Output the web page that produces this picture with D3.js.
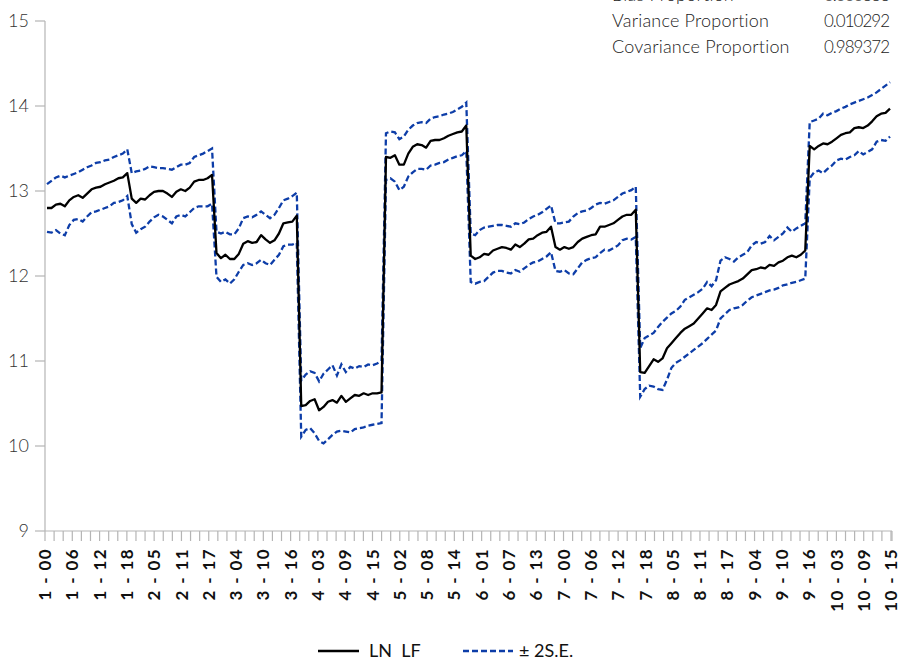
<!DOCTYPE html>
<html>
<head>
<meta charset="utf-8">
<script src="https://cdn.jsdelivr.net/npm/d3@7"></script>
<style>
  html, body { margin: 0; padding: 0; background: #fff; }
  svg { display: block; }
</style>
</head>
<body>
<svg id="chart" width="900" height="663"></svg>
<script>
// ---------- DATA ----------
const units = [1, 2, 3, 4, 5, 6, 7, 8, 9, 10];
const years = ["00","01","02","03","04","05","06","07","08","09","10","11","12","13","14","15","16","17","18"];

const tickLabels = ["1 - 00","1 - 06","1 - 12","1 - 18","2 - 05","2 - 11","2 - 17","3 - 04","3 - 10","3 - 16",
  "4 - 03","4 - 09","4 - 15","5 - 02","5 - 08","5 - 14","6 - 01","6 - 07","6 - 13","7 - 00","7 - 06",
  "7 - 12","7 - 18","8 - 05","8 - 11","8 - 17","9 - 04","9 - 10","9 - 16","10 - 03","10 - 09","10 - 15"];

const yTicks = [9, 10, 11, 12, 13, 14, 15];

const lnlf = [
  12.80,12.80,12.84,12.85,12.82,12.89,12.93,12.95,12.92,12.97,13.02,13.04,13.05,13.08,13.10,13.12,13.15,13.16,13.21,
  12.91,12.86,12.91,12.90,12.95,12.99,13.00,13.00,12.97,12.93,12.99,13.02,13.00,13.04,13.11,13.13,13.13,13.15,13.19,
  12.27,12.21,12.25,12.20,12.20,12.26,12.38,12.41,12.39,12.40,12.48,12.43,12.39,12.42,12.50,12.62,12.63,12.64,12.71,
  10.47,10.48,10.53,10.55,10.42,10.46,10.52,10.54,10.51,10.59,10.52,10.56,10.60,10.59,10.62,10.60,10.62,10.62,10.63,
  13.40,13.39,13.42,13.31,13.31,13.44,13.52,13.55,13.54,13.51,13.59,13.60,13.60,13.62,13.65,13.67,13.69,13.70,13.77,
  12.24,12.20,12.22,12.26,12.25,12.30,12.32,12.34,12.33,12.31,12.37,12.34,12.38,12.43,12.44,12.48,12.51,12.52,12.58,
  12.34,12.31,12.34,12.32,12.34,12.40,12.44,12.46,12.48,12.49,12.58,12.58,12.60,12.62,12.66,12.70,12.72,12.72,12.78,
  10.87,10.86,10.94,11.02,10.99,11.03,11.15,11.21,11.27,11.33,11.38,11.41,11.44,11.50,11.56,11.62,11.60,11.66,11.82,
  11.86,11.90,11.92,11.94,11.97,12.02,12.07,12.08,12.10,12.09,12.13,12.12,12.16,12.18,12.22,12.24,12.22,12.25,12.30,
  13.53,13.49,13.53,13.56,13.55,13.58,13.62,13.66,13.68,13.69,13.74,13.75,13.74,13.77,13.82,13.88,13.91,13.92,13.97
];

const upper = [
  13.08,13.12,13.16,13.18,13.16,13.18,13.20,13.22,13.25,13.28,13.30,13.33,13.34,13.36,13.37,13.40,13.42,13.44,13.49,
  13.21,13.23,13.24,13.26,13.29,13.28,13.27,13.27,13.26,13.25,13.28,13.31,13.31,13.33,13.40,13.42,13.44,13.47,13.50,
  12.52,12.50,12.52,12.49,12.49,12.56,12.68,12.70,12.69,12.72,12.76,12.72,12.68,12.72,12.80,12.89,12.91,12.94,12.98,
  10.77,10.84,10.88,10.86,10.76,10.85,10.90,10.95,10.83,10.96,10.87,10.93,10.91,10.94,10.93,10.96,10.95,10.97,11.00,
  13.68,13.70,13.69,13.61,13.64,13.72,13.77,13.80,13.81,13.80,13.85,13.87,13.88,13.90,13.91,13.93,13.96,13.99,14.04,
  12.50,12.48,12.54,12.57,12.58,12.59,12.60,12.60,12.59,12.58,12.62,12.61,12.63,12.67,12.70,12.72,12.75,12.79,12.83,
  12.62,12.62,12.63,12.64,12.70,12.74,12.76,12.77,12.80,12.84,12.86,12.85,12.87,12.89,12.93,12.97,12.99,13.01,13.05,
  11.15,11.27,11.30,11.33,11.40,11.46,11.51,11.56,11.59,11.64,11.72,11.75,11.78,11.81,11.85,11.93,11.88,11.95,12.18,
  12.22,12.20,12.17,12.22,12.25,12.28,12.36,12.40,12.38,12.40,12.47,12.42,12.46,12.50,12.57,12.52,12.56,12.59,12.62,
  13.81,13.83,13.85,13.91,13.89,13.92,13.94,13.97,13.99,14.02,14.04,14.06,14.08,14.10,14.13,14.16,14.20,14.24,14.28
];

const lower = [
  12.52,12.51,12.54,12.50,12.48,12.60,12.66,12.67,12.64,12.70,12.75,12.76,12.78,12.80,12.82,12.86,12.87,12.89,12.94,
  12.61,12.51,12.55,12.58,12.64,12.69,12.72,12.70,12.66,12.62,12.70,12.72,12.70,12.75,12.80,12.82,12.82,12.82,12.85,
  11.99,11.93,11.96,11.91,11.96,12.05,12.13,12.15,12.13,12.15,12.19,12.15,12.13,12.19,12.25,12.35,12.37,12.37,12.39,
  10.11,10.19,10.21,10.15,10.06,10.03,10.08,10.13,10.17,10.18,10.17,10.16,10.20,10.21,10.22,10.24,10.25,10.26,10.27,
  13.13,13.15,13.11,13.01,13.05,13.17,13.22,13.26,13.26,13.25,13.30,13.31,13.33,13.34,13.37,13.39,13.41,13.42,13.47,
  11.93,11.91,11.93,11.94,11.99,12.04,12.06,12.06,12.04,12.03,12.07,12.05,12.09,12.13,12.16,12.17,12.20,12.23,12.28,
  12.06,12.05,12.07,12.03,12.02,12.09,12.16,12.19,12.21,12.22,12.27,12.31,12.30,12.33,12.36,12.42,12.44,12.43,12.46,
  10.58,10.67,10.71,10.70,10.67,10.66,10.78,10.92,10.98,11.01,11.05,11.09,11.13,11.17,11.21,11.26,11.31,11.36,11.50,
  11.55,11.60,11.62,11.63,11.66,11.71,11.75,11.77,11.79,11.81,11.83,11.84,11.86,11.89,11.90,11.92,11.93,11.95,11.97,
  13.15,13.22,13.24,13.21,13.26,13.30,13.36,13.38,13.37,13.40,13.42,13.47,13.43,13.46,13.49,13.58,13.60,13.59,13.64
];

const statNames = ["Bias Proportion", "Variance Proportion", "Covariance Proportion"];
const statValues = ["0.000336", "0.010292", "0.989372"];

const legendNames = ["LN  LF", "\u00B1 2S.E."];

// ---------- BUILD ----------
const obsLabels = [];
units.forEach(u => years.forEach(y => obsLabels.push(u + " - " + y)));

const FONT = "Lato, 'Open Sans', sans-serif";
const svg = d3.select("#chart");

const axisLeft = 45, axisRight = 892, axisBottom = 531;
const x = d3.scalePoint().domain(obsLabels).range([47, 890]);
const xLab = d3.scalePoint().domain(tickLabels).range([45, 891]);
const y = d3.scaleLinear().domain([9, 15]).range([531, 21]);

const axisColor = "#b5b5b5";

// x axis
const gx = svg.append("g");
gx.append("line").attr("x1", axisLeft).attr("x2", axisRight)
  .attr("y1", axisBottom).attr("y2", axisBottom)
  .attr("stroke", axisColor).attr("stroke-width", 1.2);
const step3 = xLab.step() / 3;
const minorTicks = d3.range(0, (tickLabels.length - 1) * 3 + 1).map(k => xLab(tickLabels[0]) + k * step3);
gx.selectAll("line.tk").data(minorTicks).join("line").attr("class", "tk")
  .attr("x1", d => d).attr("x2", d => d)
  .attr("y1", axisBottom).attr("y2", axisBottom + 10)
  .attr("stroke", axisColor).attr("stroke-width", 1.2);
gx.append("line").attr("x1", axisRight).attr("x2", axisRight)
  .attr("y1", axisBottom).attr("y2", axisBottom + 10)
  .attr("stroke", axisColor).attr("stroke-width", 1.2);
gx.selectAll("text").data(tickLabels).join("text")
  .attr("transform", d => `translate(${xLab(d)},548) rotate(-90)`)
  .attr("text-anchor", "end").attr("dy", "0.36em")
  .attr("font-family", FONT).attr("font-size", 17).attr("font-weight", 700)
  .attr("letter-spacing", 1.4)
  .attr("fill", "#111").style("white-space", "pre")
  .text(d => d);

// y axis
const gy = svg.append("g");
gy.append("line").attr("x1", axisLeft).attr("x2", axisLeft)
  .attr("y1", y(15)).attr("y2", axisBottom)
  .attr("stroke", axisColor).attr("stroke-width", 1.2);
gy.selectAll("line.tk").data(yTicks).join("line").attr("class", "tk")
  .attr("x1", 35).attr("x2", axisLeft)
  .attr("y1", d => y(d)).attr("y2", d => y(d))
  .attr("stroke", axisColor).attr("stroke-width", 1.2);
gy.selectAll("text").data(yTicks).join("text")
  .attr("x", 29).attr("y", d => y(d)).attr("dy", "0.35em")
  .attr("text-anchor", "end")
  .attr("font-family", FONT).attr("font-size", 18).attr("font-weight", 300)
  .attr("fill", "#333").text(d => d);

// lines
const line = d3.line().x((d, i) => x(obsLabels[i])).y(d => y(d));
const blue = "#0d3da8";
svg.append("path").datum(upper).attr("d", line).attr("fill", "none")
  .attr("stroke", blue).attr("stroke-width", 2.3).attr("stroke-dasharray", "6,3");
svg.append("path").datum(lower).attr("d", line).attr("fill", "none")
  .attr("stroke", blue).attr("stroke-width", 2.3).attr("stroke-dasharray", "6,3");
svg.append("path").datum(lnlf).attr("d", line).attr("fill", "none")
  .attr("stroke", "#000").attr("stroke-width", 2.3).attr("stroke-linejoin", "round");

// stats text (top right)
const gs = svg.append("g");
statNames.forEach((n, i) => {
  gs.append("text").attr("x", 612).attr("y", 1 + i * 26)
    .attr("font-family", FONT).attr("font-size", 18).attr("font-weight", 300)
    .attr("letter-spacing", 0.2)
    .attr("fill", "#222").text(n);
  gs.append("text").attr("x", 889).attr("y", 1 + i * 26).attr("text-anchor", "end")
    .attr("font-family", FONT).attr("font-size", 17).attr("font-weight", 300)
    .attr("letter-spacing", -1.0)
    .attr("fill", "#222").text(statValues[i]);
});

// legend
const ly = 651;
const gl = svg.append("g");
gl.append("line").attr("x1", 318).attr("x2", 359).attr("y1", ly).attr("y2", ly)
  .attr("stroke", "#000").attr("stroke-width", 2.3);
gl.append("text").attr("x", 369).attr("y", ly).attr("dy", "0.35em")
  .attr("font-family", FONT).attr("font-size", 18).attr("font-weight", 400)
  .attr("fill", "#111").style("white-space", "pre").text(legendNames[0]);
gl.append("line").attr("x1", 463).attr("x2", 513).attr("y1", ly).attr("y2", ly)
  .attr("stroke", blue).attr("stroke-width", 2.3).attr("stroke-dasharray", "6,3");
gl.append("text").attr("x", 519).attr("y", ly).attr("dy", "0.35em")
  .attr("font-family", FONT).attr("font-size", 18).attr("font-weight", 400)
  .attr("fill", "#111").text(legendNames[1]);
</script>
</body>
</html>
